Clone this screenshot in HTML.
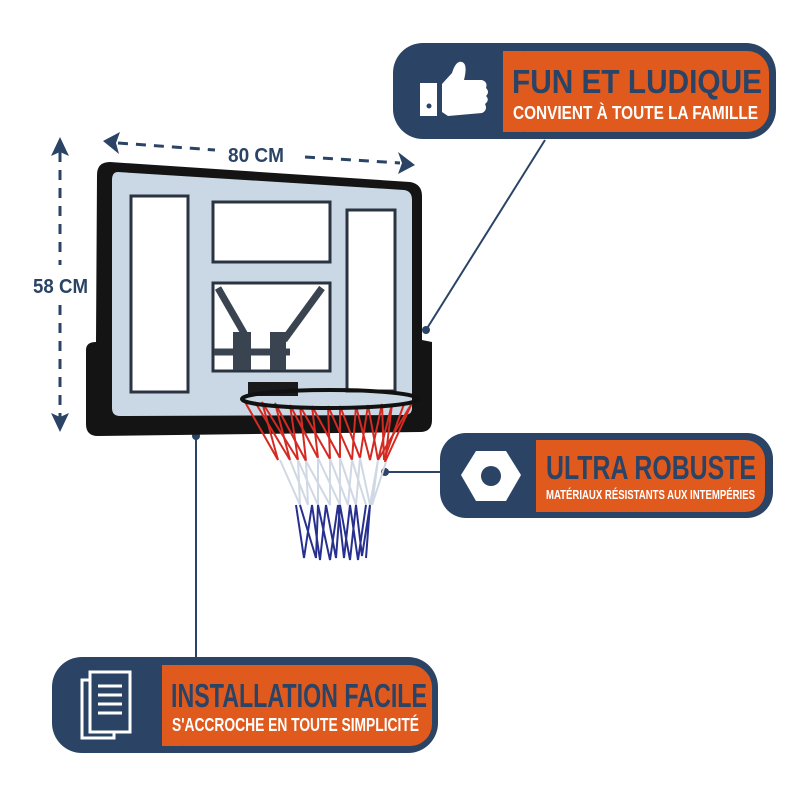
<!DOCTYPE html>
<html><head><meta charset="utf-8"><style>
html,body{margin:0;padding:0;background:#fff}
svg{display:block}
text{font-family:"Liberation Sans Narrow","Liberation Sans",sans-serif;font-weight:bold}
</style></head><body>
<svg width="800" height="800" viewBox="0 0 800 800" xmlns="http://www.w3.org/2000/svg">
<g stroke="#2b4466" stroke-width="3" stroke-dasharray="10 8" fill="none">
<line x1="118" y1="143" x2="215" y2="150"/>
<line x1="305" y1="157" x2="400" y2="163"/>
<line x1="60" y1="152" x2="60" y2="265"/>
<line x1="60" y1="305" x2="60" y2="418"/>
</g>
<g fill="#2b4466">
<polygon points="103,141 120,132 116,143 119,154"/>
<polygon points="415,165 398,174 402,163 398,152"/>
<polygon points="60,137 51,156 60,152 69,156"/>
<polygon points="60,432 51,413 60,417 69,413"/>
</g>
<text x="228" y="162" font-size="20" fill="#2b4466" textLength="56" lengthAdjust="spacingAndGlyphs">80 CM</text>
<text x="33" y="293" font-size="20" fill="#2b4466" textLength="55" lengthAdjust="spacingAndGlyphs">58 CM</text>

<g stroke="#2b4466" stroke-width="2">
<line x1="545" y1="140" x2="426" y2="330"/>
<line x1="440" y1="472" x2="386" y2="472"/>
<line x1="196" y1="436" x2="196" y2="657"/>
</g>
<circle cx="426" cy="330" r="4" fill="#2b4466"/>
<circle cx="385" cy="472" r="4" fill="#2b4466"/>
<circle cx="196" cy="436" r="4" fill="#2b4466"/>

<path d="M110 162 L410 182 Q422 184 422 196 L422 340 L432 342 L432 420 Q432 432 420 432 L98 436 Q86 436 86 424 L86 350 Q86 342 96 342 L97 175 Q97 162 110 162Z" fill="#141414"/>
<path d="M118 172 L404 190 Q412 191 412 200 L412 408 Q412 415 404 415 L120 416 Q112 416 112 408 L112 180 Q112 172 118 172Z" fill="#c9d8e4"/>
<g fill="#fff" stroke="#2a3440" stroke-width="3">
<rect x="131" y="196" width="57" height="196"/>
<rect x="213" y="202" width="117" height="60"/>
<rect x="213" y="283" width="117" height="88"/>
<rect x="347" y="210" width="48" height="181"/>
</g>
<g stroke="#3a4450" stroke-width="7" fill="none">
<line x1="218" y1="288" x2="248" y2="340"/>
<line x1="322" y1="288" x2="284" y2="340"/>
<line x1="214" y1="352" x2="290" y2="352"/>
</g>
<rect x="233" y="332" width="18" height="38" fill="#3a4450"/>
<rect x="270" y="332" width="16" height="38" fill="#3a4450"/>
<rect x="248" y="382" width="50" height="14" fill="#1a1a1a"/>

<g fill="none" stroke-width="2">
<g stroke="#d42a22">
<polyline points="245,402 278,460 262,402 298,460 290,405 318,458 312,406 340,458 340,406 360,458 368,405 378,460 392,404 385,462 412,403 378,460"/>
<polyline points="255,402 290,460 275,403 306,461 300,406 330,459 328,406 352,460 356,406 370,460 382,404 384,460 404,404"/>
</g>
<g stroke="#cfd8e4">
<polyline points="280,460 300,505 298,460 318,505 318,458 340,505 340,458 356,505 360,458 370,505 378,460 372,505 386,462"/>
<polyline points="290,460 308,505 306,461 330,505 330,459 348,505 352,460 366,505"/>
</g>
<g stroke="#27308e">
<polyline points="296,505 304,558 312,505 320,560 326,505 336,558 340,505 350,560 356,505 362,556 370,505 366,558"/>
<polyline points="300,505 316,558 318,505 330,560 338,505 344,558 350,505 358,560 366,505"/>
</g>
</g>
<ellipse cx="330" cy="399" rx="88" ry="9" fill="none" stroke="#111" stroke-width="4"/>

<rect x="393" y="43" width="383" height="96" rx="30" fill="#2b4466"/>
<rect x="503" y="51" width="266" height="81" rx="22" fill="#e05a1e"/>
<rect x="503" y="51" width="20" height="81" fill="#e05a1e"/>
<rect x="420" y="83" width="17" height="33" fill="#fff"/>
<circle cx="429" cy="106" r="2.5" fill="#2b4466"/>
<path d="M442 84 L452 73 Q456 60 462 62 Q468 64 464 80 L482 80 Q488 82 486 88 Q490 92 486 96 Q490 100 485 104 Q488 110 482 113 L448 116 L442 112Z" fill="#fff"/>
<text x="512" y="93" font-size="33" fill="#2b4466" textLength="250" lengthAdjust="spacingAndGlyphs">FUN ET LUDIQUE</text>
<text x="513" y="119" font-size="18" fill="#fff" textLength="245" lengthAdjust="spacingAndGlyphs">CONVIENT À TOUTE LA FAMILLE</text>

<rect x="440" y="433" width="333" height="85" rx="26" fill="#2b4466"/>
<rect x="536" y="440" width="229" height="72" rx="20" fill="#e05a1e"/>
<rect x="536" y="440" width="20" height="72" fill="#e05a1e"/>
<polygon points="476,451 506,451 521,475 506,501 476,501 461,475" fill="#fff"/>
<circle cx="491" cy="476" r="10" fill="#2b4466"/>
<text x="546" y="479" font-size="33" fill="#2b4466" textLength="210" lengthAdjust="spacingAndGlyphs">ULTRA ROBUSTE</text>
<text x="546" y="499" font-size="13" fill="#fff" textLength="209" lengthAdjust="spacingAndGlyphs">MATÉRIAUX RÉSISTANTS AUX INTEMPÉRIES</text>

<rect x="52" y="657" width="386" height="96" rx="30" fill="#2b4466"/>
<rect x="162" y="665" width="270" height="81" rx="22" fill="#e05a1e"/>
<rect x="162" y="665" width="20" height="81" fill="#e05a1e"/>
<rect x="82" y="680" width="32" height="58" fill="none" stroke="#fff" stroke-width="3"/>
<rect x="90" y="672" width="40" height="60" fill="#2b4466" stroke="#fff" stroke-width="3"/>
<g stroke="#fff" stroke-width="3"><line x1="98" y1="686" x2="122" y2="686"/><line x1="98" y1="695" x2="122" y2="695"/><line x1="98" y1="704" x2="122" y2="704"/><line x1="98" y1="713" x2="122" y2="713"/></g>
<text x="171" y="707" font-size="33" fill="#2b4466" textLength="256" lengthAdjust="spacingAndGlyphs">INSTALLATION FACILE</text>
<text x="172" y="731" font-size="18" fill="#fff" textLength="247" lengthAdjust="spacingAndGlyphs">S'ACCROCHE EN TOUTE SIMPLICITÉ</text>
</svg>
</body></html>
